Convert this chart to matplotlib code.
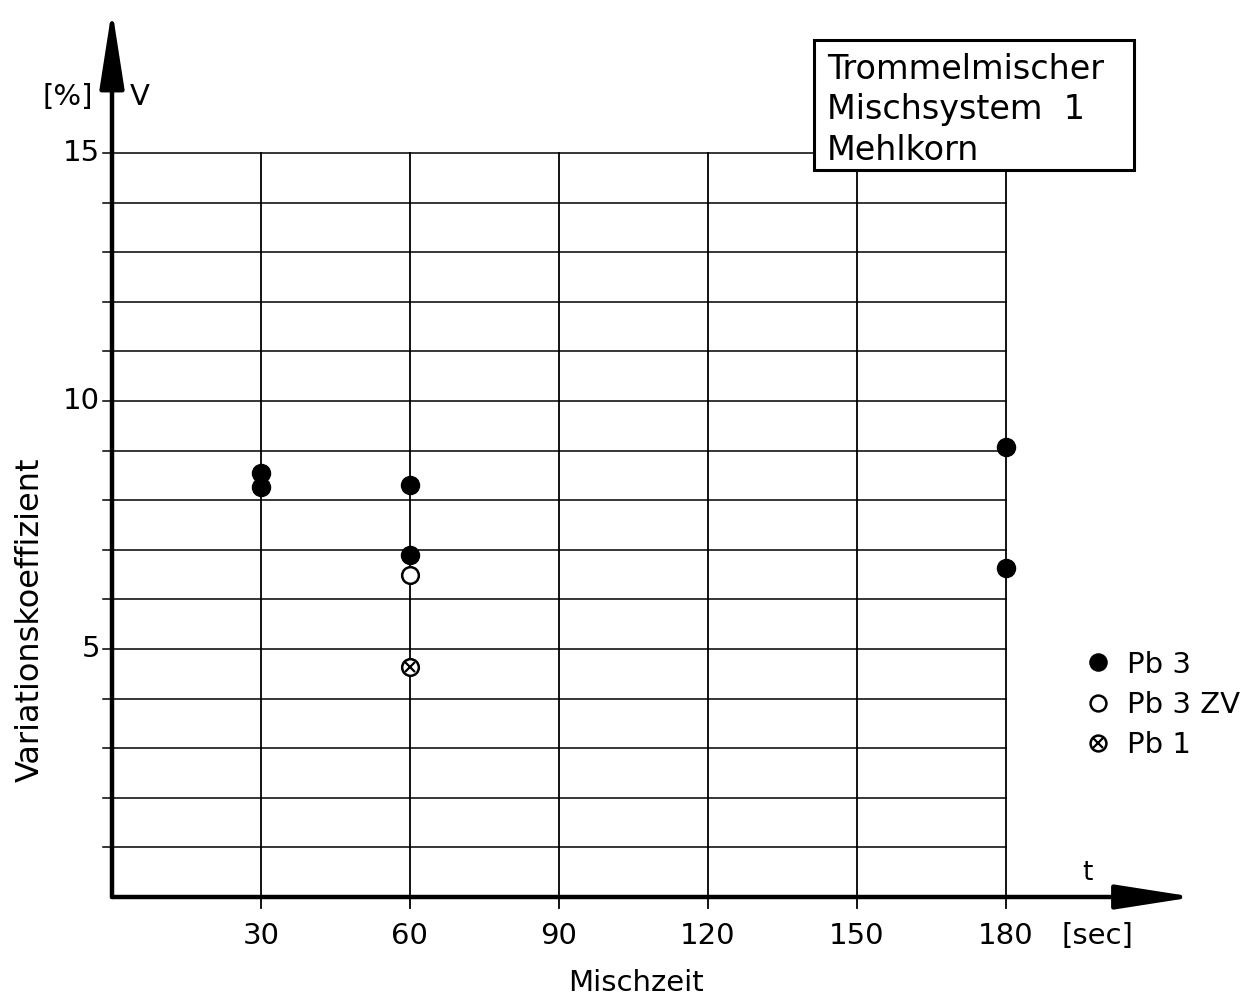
import matplotlib.pyplot as plt
from matplotlib.patches import Rectangle
from matplotlib.legend_handler import HandlerTuple

# Mischzeit t [sec] und Variationskoeffizient V [%]
pb3_t = [30, 30, 60, 60, 180, 180]
pb3_v = [8.55, 8.27, 8.31, 6.90, 9.07, 6.63]
pb3zv_t = [60]
pb3zv_v = [6.49]
pb1_t = [60]
pb1_v = [4.64]

x_ticks = [30, 60, 90, 120, 150, 180]
y_ticks = [5, 10, 15]
y_grid = list(range(1, 16))

box_lines = ["Trommelmischer", "Mischsystem  1", "Mehlkorn"]

plt.rcParams['font.family'] = 'DejaVu Sans'

W, H = 1248, 1002
fig = plt.figure(figsize=(W / 100, H / 100), dpi=100)
ax = fig.add_axes([112 / W, 105 / H, 1088 / W, 887 / H])
ax.set_xlim(0, 1088 / 4.965)
ax.set_ylim(0, 887 / 49.6)
ax.axis('off')

# Gitter
for y in y_grid:
    x_end = 200 if y == 15 else 180
    ax.plot([-1.8, x_end], [y, y], color='black', lw=1.1, clip_on=False, zorder=1)
for x in x_ticks:
    ax.plot([x, x], [-0.22, 15], color='black', lw=1.3, clip_on=False, zorder=1)

# Achsen mit Pfeilen
arrow = dict(arrowstyle='-|>,head_length=4.8,head_width=0.75', lw=3.2,
             color='black', shrinkA=0, shrinkB=0, mutation_scale=10)
ax.annotate('', xy=(0, 17.9), xytext=(0, 0), arrowprops=arrow, zorder=3,
            annotation_clip=False)
ax.annotate('', xy=(218, 0), xytext=(0, 0), arrowprops=arrow, zorder=3,
            annotation_clip=False)

# Beschriftung der Achsen
for x in x_ticks:
    ax.text(x, -0.79, str(x), ha='center', va='center', fontsize=21)
for y in y_ticks:
    ax.text(-2.4, y, str(y), ha='right', va='center', fontsize=21)

ax.text(-8.9, 16.13, "[%]", ha='center', va='center', fontsize=21)
ax.text(5.6, 16.13, "V", ha='center', va='center', fontsize=21)
ax.text(196.4, 0.48, "t", ha='center', va='center', fontsize=19)
ax.text(198.4, -0.79, "[sec]", ha='center', va='center', fontsize=21)

fig.text(30 / W, 1 - 620 / H, "Variationskoeffizient", rotation=90,
         ha='center', va='center', fontsize=23)
fig.text(636 / W, 1 - 983 / H, "Mischzeit", ha='center', va='center',
         fontsize=21)

# Kasten oben rechts
ax.add_patch(Rectangle((141.3, 14.66), 64.5, 2.62, facecolor='white',
                       edgecolor='black', lw=2.2, zorder=5, clip_on=False))
for i, line in enumerate(box_lines):
    ax.text(144.0, 16.69 - i * 0.82, line, ha='left', va='center', fontsize=24,
            zorder=6)

# Messpunkte
h_pb3, = ax.plot(pb3_t, pb3_v, 'o', ms=13, color='black', zorder=4,
                 clip_on=False)
h_zv, = ax.plot(pb3zv_t, pb3zv_v, 'o', ms=12, mfc='white', mec='black',
                mew=1.8, zorder=4)
h_pb1o, = ax.plot(pb1_t, pb1_v, 'o', ms=12, mfc='white', mec='black',
                  mew=1.8, zorder=4)
h_pb1x, = ax.plot(pb1_t, pb1_v, 'x', ms=7, color='black', mew=1.6, zorder=4)

leg = fig.legend([h_pb3, h_zv, (h_pb1o, h_pb1x)], ["Pb 3", "Pb 3 ZV", "Pb 1"],
                 loc='upper left', bbox_to_anchor=(1070 / W, 1 - 636 / H),
                 frameon=False, fontsize=21, markerscale=0.95, handlelength=0.9,
                 handletextpad=0.55, labelspacing=0.42, borderpad=0,
                 handler_map={tuple: HandlerTuple(ndivide=1, pad=0)})

fig.savefig("out.png", dpi=100)
